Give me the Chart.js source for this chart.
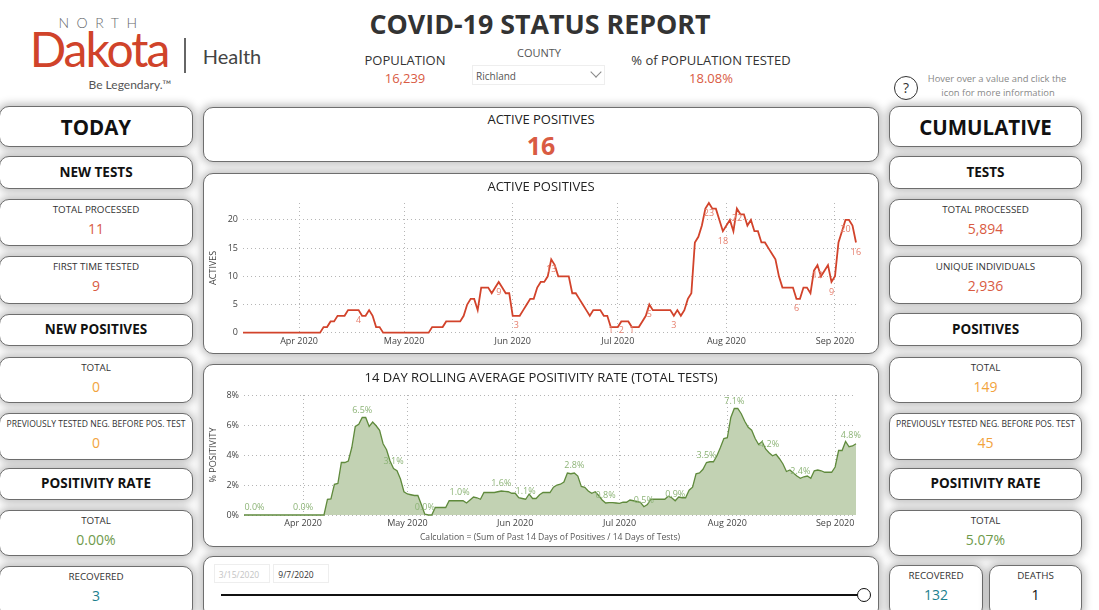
<!DOCTYPE html>
<html><head><meta charset="utf-8">
<script src="https://cdn.jsdelivr.net/npm/chart.js@4"></script>
<style>
html,body{margin:0;padding:0;background:#fff;overflow:hidden;width:1099px;height:610px;font-family:"Open Sans",sans-serif}
#stage{position:relative;width:1099px;height:610px;overflow:hidden}
.card{position:absolute;box-sizing:border-box;background:#fff;border:1px solid #6e6e6e;border-radius:10px;box-shadow:0 0 9px 2px rgba(0,0,0,.28)}
.t{position:absolute;transform:translate(-50%,-50%);white-space:nowrap;line-height:1}
canvas{position:absolute}
.box{position:absolute;box-sizing:border-box;border:1px solid #eeeeee;background:#fff}
</style></head><body><div id="stage"></div>
<script>
// ---------- chart data ----------
const activeStart = '2020-03-16';
const activeValues = [0,0,0,0,0,0,0,0,0,0,0,0,0,0,0,0,0,0,0,0,0,0,0,1,1,2,2,3,3,3,4,4,4,4,3,3,4,3,1,1,0,0,0,0,0,0,0,0,0,0,0,0,0,0,1,1,1,1,2,2,2,2,2,3,5,6,6,4,8,8,8,7,8,9,8,7,7,3,3,3,4,5,6,6,8,9,9,10,13,12,10,10,10,10,7,7,6,5,4,3,4,4,4,3,3,1,1,1,2,2,2,1,1,1,2,3,5,4,4,4,4,4,4,3,4,3,4,6,7,16,17,19,22,23,22,22,20,18,19,20,18,22,21,21,19,20,18,18,16,16,15,14,13,10,8,8,8,8,6,6,8,8,7,11,12,10,11,12,9,10,16,18,20,20,19,16];
const activeLabelIndex = [33,73,78,88,105,108,111,116,123,133,137,141,158,164,168,172,175];
const activeLabelText = ['4','9','3','13','1','2','1','5','3','23','18','22','6','12','9','20','16'];
const rateStart = '2020-03-15';
const rateValues = [0,0,0,0,0,0,0,0,0,0,0,0,0,0,0,0,0,0,0,0,0,0,0,0,1.05,1.08,2.05,2.1,3.5,3.5,3.6,4.5,5.9,6.05,6.5,6.5,5.9,6.2,5.95,5.65,4.75,4.35,3.6,3.1,2.95,2.4,1.55,1.4,1.35,1.3,1.3,0.7,0.05,0,0,0.5,0.5,0.5,0.5,0.95,0.95,0.95,0.95,0.95,0.8,1,1.2,1.15,1.05,1.5,1.5,1.5,1.5,1.55,1.6,1.58,1.55,1.45,1.45,1.15,1.1,1.05,1.4,1.1,1.1,1.35,1.5,1.5,1.5,1.85,2,2.05,2.2,2.8,2.75,2.8,2.6,1.9,1.85,1.6,1.45,1.55,1.3,1,0.8,0.82,0.82,0.8,0.78,0.85,0.85,1,0.95,0.9,0.85,0.55,0.7,1.05,1.05,1.05,1.05,1.05,1.25,1.15,0.95,1.2,1.15,1.15,1.65,1.85,2.75,2.8,3.05,3.5,3.55,3.55,3.95,4.5,5.1,5.15,6.5,7.1,7.1,6.75,6.25,5.85,5.65,5.1,4.7,4.9,4.4,4.15,3.95,4.05,3.75,3.4,2.9,3,2.8,2.6,2.45,2.55,2.6,2.45,2.95,3,2.95,2.85,2.85,2.85,3.2,4.3,4.3,4.9,4.55,4.6,4.75];
const rateLabelIndex = [3,17,34,43,52,62,74,81,95,104,115,124,133,141,151,160,174.5];
const rateLabelText = ['0.0%','0.0%','6.5%','3.1%','0.0%','1.0%','1.6%','1.1%','2.8%','0.8%','0.5%','0.9%','3.5%','7.1%','4.2%','2.4%','4.8%'];
const monthTicks = ['Apr 2020','May 2020','Jun 2020','Jul 2020','Aug 2020','Sep 2020'];
const activeTicks = [0,5,10,15,20];
const rateTicks = [0,2,4,6,8];

// ---------- page furniture ----------
const FONT = '"Open Sans",sans-serif';
const RED='#d95b43', ORANGE='#f2a33c', GREEN='#6f9a4c', TEAL='#1c7f8e';
const stage=document.getElementById('stage');
function t(x,y,text,size,color,weight,extra){const d=document.createElement('div');d.className='t';d.textContent=text;
  d.style.cssText=`left:${x}px;top:${y}px;font-size:${size}px;color:${color||'#333'};font-weight:${weight||400};`+(extra||'');stage.appendChild(d);return d;}
function card(x,y,w,h){const d=document.createElement('div');d.className='card';d.style.cssText=`left:${x}px;top:${y}px;width:${w}px;height:${h}px`;stage.appendChild(d);return d;}
function head(x,y,w,h,text,size){card(x,y,w,h);t(x+w/2,y+h/2,text,size,'#111',700);}
function stat(x,y,w,h,label,value,color,ls){card(x,y,w,h);t(x+w/2,y+11,label,ls||9.8,'#333');t(x+w/2,y+30,value,14,color);}

const L=-1,R=889,W=194,W2=193;
head(L,106,W,41,'TODAY',20.5);
head(L,156,W,33,'NEW TESTS',13.5);
stat(L,199,W,47,'TOTAL PROCESSED','11',RED);
stat(L,256,W,48,'FIRST TIME TESTED','9',RED);
head(L,314,W,32,'NEW POSITIVES',13.5);
stat(L,357,W,46,'TOTAL','0',ORANGE);
stat(L,413,W,47,'PREVIOUSLY TESTED NEG. BEFORE POS. TEST','0',ORANGE,8.55);
head(L,468,W,32,'POSITIVITY RATE',13.5);
stat(L,510,W,46,'TOTAL','0.00%',GREEN);
stat(L,566,W,52,'RECOVERED','3',TEAL);

head(R,106,W2,41,'CUMULATIVE',20.5);
head(R,156,W2,33,'TESTS',13.5);
stat(R,199,W2,47,'TOTAL PROCESSED','5,894',RED);
stat(R,256,W2,48,'UNIQUE INDIVIDUALS','2,936',RED);
head(R,313,W2,33,'POSITIVES',13.5);
stat(R,357,W2,46,'TOTAL','149',ORANGE);
stat(R,413,W2,47,'PREVIOUSLY TESTED NEG. BEFORE POS. TEST','45',ORANGE,8.55);
head(R,468,W2,32,'POSITIVITY RATE',13.5);
stat(R,510,W2,46,'TOTAL','5.07%',GREEN);
stat(R,565,94,52,'RECOVERED','132',TEAL);
stat(989,565,93,52,'DEATHS','1','#111');

card(203,107,676,55);
t(541,119,'ACTIVE POSITIVES',13,'#222');
t(541,145,'16',25,RED,700);
card(203,173,676,181);
card(203,364,676,183);
card(203,556,676,62);

// slider
const b1=document.createElement('div');b1.className='box';b1.style.cssText='left:214px;top:564px;width:56px;height:19px';stage.appendChild(b1);
const b2=document.createElement('div');b2.className='box';b2.style.cssText='left:273px;top:564px;width:56px;height:19px';stage.appendChild(b2);
t(239,575,'3/15/2020',8.5,'#c4c4c4');
t(296,575,'9/7/2020',8.5,'#333');
const line=document.createElement('div');line.style.cssText='position:absolute;left:221px;top:594px;width:637px;height:2px;background:#111';stage.appendChild(line);
const knob=document.createElement('div');knob.style.cssText='position:absolute;left:857px;top:588px;width:14px;height:14px;box-sizing:border-box;border:1.5px solid #111;border-radius:50%;background:#fff';stage.appendChild(knob);

// header
t(540,24,'COVID-19 STATUS REPORT',26.8,'#333',700);
t(405,60,'POPULATION',13,'#333');
t(405,78,'16,239',13,RED);
t(539,52,'COUNTY',11,'#555');
const dd=document.createElement('div');dd.className='box';dd.style.cssText='left:472px;top:65px;width:133px;height:20px';stage.appendChild(dd);
t(496,76,'Richland',10,'#555');
const chev=document.createElement('div');chev.style.cssText='position:absolute;left:592px;top:68px;width:7px;height:7px;border-right:1px solid #888;border-bottom:1px solid #888;transform:rotate(45deg)';stage.appendChild(chev);
t(711,60,'% of POPULATION TESTED',13,'#333');
t(711,78,'18.08%',13,RED);

// logo
t(101.5,23,'NORTH',14,'#66686b',300,'font-family:Lato,sans-serif;letter-spacing:7.5px;');
t(99,49,'Dakota',48,'#d0432a',400,'font-family:Lato,sans-serif;letter-spacing:-2px;');
const rule=document.createElement('div');rule.style.cssText='position:absolute;left:184px;top:38px;width:2px;height:35px;background:#666';stage.appendChild(rule);
t(232,56,'Health',20,'#444',400,'font-family:Lato,sans-serif;');
t(130,85,'Be Legendary.™',12,'#555',400,'font-family:Lato,sans-serif;');

// help
const q=document.createElement('div');q.style.cssText='position:absolute;left:894px;top:76px;width:24px;height:24px;box-sizing:border-box;border:1.5px solid #333;border-radius:50%';stage.appendChild(q);
t(906,88,'?',14,'#333',400);
t(997,79,'Hover over a value and click the',9.4,'#888');
t(998,93,'icon for more information',9.4,'#888');

// ---------- charts ----------
function dates(startIso,n){const out=[];const d=new Date(startIso+'T00:00:00Z');for(let i=0;i<n;i++){out.push(d.toISOString().slice(0,10));d.setUTCDate(d.getUTCDate()+1);}return out;}
function pointLabels(labelIndex,labelText,color,placeBelow){return {id:'pointLabels',afterDatasetsDraw(c){
  const g=c.ctx,x=c.scales.x,y=c.scales.y;g.save();g.font='9px '+FONT;g.fillStyle=color;g.textAlign='center';g.textBaseline='middle';
  labelIndex.forEach((idx,k)=>{const v=parseFloat(labelText[k]);let py=y.getPixelForValue(v);
    py=placeBelow?Math.min(py+10,y.bottom-2):py-7.5;
    g.fillText(labelText[k],x.getPixelForValue(idx),py);});g.restore();}};}
function makeChart(o){
  const cv=document.createElement('canvas');cv.style.cssText=`left:${o.left}px;top:${o.top}px`;cv.width=o.w;cv.height=o.h;
  cv.style.width=o.w+'px';cv.style.height=o.h+'px';stage.appendChild(cv);
  const cats=dates(o.start,o.values.length);
  const gridDots={color:'#b5b5b5',lineWidth:1,drawTicks:false};
  const dots={display:false,dash:[1,3]};
  return new Chart(cv,{type:'line',plugins:[pointLabels(o.labelIndex,o.labelText,o.labelColor,o.below)],
    data:{labels:cats,datasets:[{label:o.title,data:o.values,borderColor:o.color,backgroundColor:o.fill||'transparent',fill:o.fill?'origin':false,borderWidth:o.lw,pointRadius:0,tension:0,clip:false}]},
    options:{responsive:false,animation:false,devicePixelRatio:1,events:[],
      layout:{padding:0},
      plugins:{legend:{display:false},tooltip:{enabled:false},
        title:{display:true,text:o.title,color:'#222',font:{family:FONT,size:o.titleSize,weight:'400',lineHeight:1.2},padding:{top:o.titleTop,bottom:o.titleBottom}}},
      scales:{
        x:{type:'category',grid:gridDots,border:dots,
          afterBuildTicks(s){s.ticks=cats.map((d,i)=>({value:i,d})).filter(e=>e.d.endsWith('-01')).map(e=>({value:e.value}));},
          afterFit(s){s.height=o.xH;},
          title:o.caption?{display:true,text:o.caption,color:'#555',font:{family:FONT,size:8.6},padding:{top:1,bottom:3}}:{display:false},
          ticks:{autoSkip:false,maxRotation:0,minRotation:0,color:'#444',font:{family:FONT,size:9},padding:3,
            callback(v,i){return monthTicks[i];}}},
        y:{type:'linear',min:0,max:o.max,grid:gridDots,border:dots,
          afterBuildTicks(s){s.ticks=o.ticks.map(v=>({value:v}));},
          afterFit(s){s.width=o.yW;},
          title:{display:true,text:o.yTitle,color:'#444',font:{family:FONT,size:9},padding:{top:4,bottom:0}},
          ticks:{color:'#444',font:{family:FONT,size:9},padding:5,callback:o.fmt}},
        gutter:{type:'linear',position:'right',grid:{display:false},border:{display:false},ticks:{display:false},afterFit(s){s.width=o.padR;}}
      }}});
}
makeChart({left:204,top:174,w:674,h:179,start:activeStart,values:activeValues,labelIndex:activeLabelIndex,labelText:activeLabelText,
  labelColor:'#e6806f',below:true,title:'ACTIVE POSITIVES',titleSize:13,titleTop:5,titleBottom:8.4,color:'#d2432b',lw:1.8,max:23,ticks:activeTicks,
  yTitle:'ACTIVES',yW:39,xH:20.3,padR:22,fmt:v=>String(v)});
makeChart({left:204,top:365,w:674,h:181,start:rateStart,values:rateValues,labelIndex:rateLabelIndex,labelText:rateLabelText,
  labelColor:'#8db477',below:false,title:'14 DAY ROLLING AVERAGE POSITIVITY RATE (TOTAL TESTS)',titleSize:13,titleTop:5,titleBottom:9.4,color:'#5f8a3c',fill:'#c2d2b3',lw:1.3,max:8,ticks:rateTicks,
  yTitle:'% POSITIVITY',yW:40,xH:31,padR:22,caption:'Calculation = (Sum of Past 14 Days of Positives / 14 Days of Tests)',fmt:v=>v+'%'});
</script></body></html>
